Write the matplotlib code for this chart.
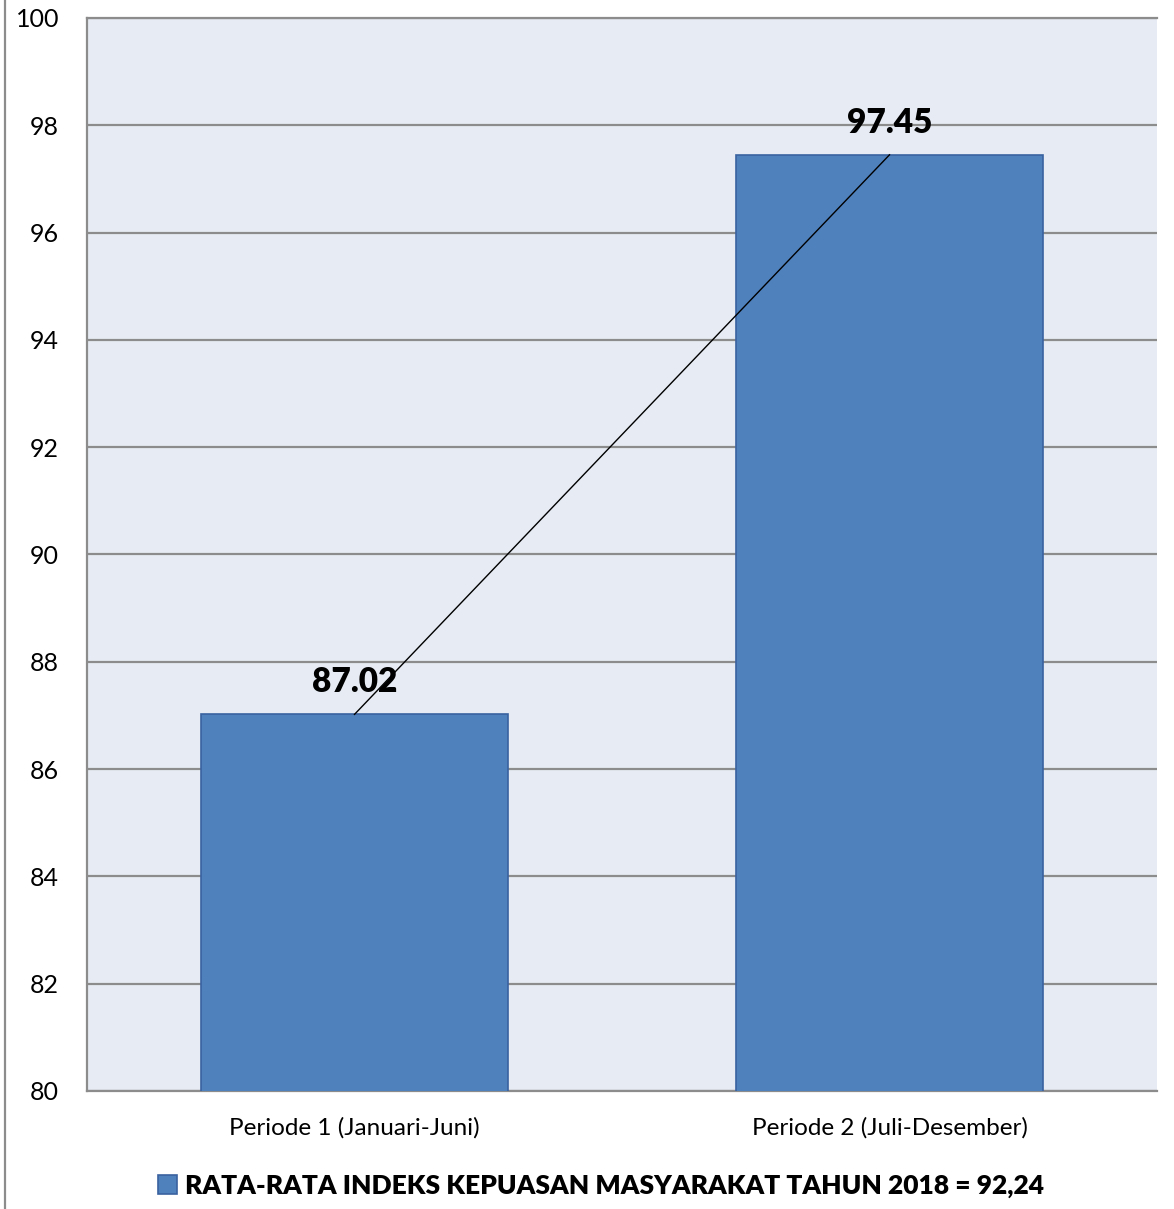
import matplotlib
matplotlib.use("Agg")
import matplotlib.pyplot as plt
from matplotlib.lines import Line2D
from matplotlib.patches import Patch

categories = ["Periode 1 (Januari-Juni)", "Periode 2 (Juli-Desember)"]
values = [87.02, 97.45]
value_labels = ["87.02", "97.45"]
legend_label = "RATA-RATA INDEKS KEPUASAN MASYARAKAT TAHUN 2018 = 92,24"
yticks = [80, 82, 84, 86, 88, 90, 92, 94, 96, 98, 100]

plt.rcParams['font.family'] = ['Lato', 'DejaVu Sans']

fig = plt.figure(figsize=(11.74, 12.09), dpi=100)
ax = fig.add_axes([87/1174, 1-1091/1209, (1157-87)/1174, (1091-18)/1209])
ax.set_facecolor('#E7ECF4')

x = list(range(len(categories)))
ax.bar(x, values, width=0.572, bottom=0, color='#4F81BD', edgecolor='#3A62A0', linewidth=1.2, zorder=3)
ax.plot(x, values, color='black', linewidth=1.0, zorder=4)
for xi, v, lab in zip(x, values, value_labels):
    ax.text(xi, v + 0.3, lab, ha='center', va='bottom', fontsize=24, fontweight='heavy', color='black', zorder=5)

ax.set_xlim(-0.5, 1.5)
ax.set_ylim(80, 100)
ax.set_yticks(yticks)
ax.set_yticklabels([str(t) for t in yticks], fontsize=18)
ax.set_xticks(x)
ax.set_xticklabels(categories, fontsize=17.5)
ax.tick_params(axis='both', length=0)
ax.tick_params(axis='y', pad=20)
ax.tick_params(axis='x', pad=19)
ax.yaxis.grid(True, color='#8C8C8C', linewidth=1.6, zorder=1)
ax.set_axisbelow(True)
for s in ['left', 'bottom', 'top']:
    ax.spines[s].set_color('#8C8C8C')
    ax.spines[s].set_linewidth(1.6)
ax.spines['right'].set_visible(False)

handle = Patch(facecolor='#4F81BD', edgecolor='#3A62A0', linewidth=1.2)
fig.legend([handle], [legend_label], loc='center', bbox_to_anchor=(601/1174, 1-1186/1209),
           frameon=False, prop={'size': 19, 'weight': 'heavy'}, handlelength=0.7, handleheight=0.7,
           handletextpad=0.3)

fig.add_artist(Line2D([5/1174, 5/1174], [0, 1], color='#8C8C8C', linewidth=1.6, transform=fig.transFigure))

fig.savefig('out.png', dpi=100)
